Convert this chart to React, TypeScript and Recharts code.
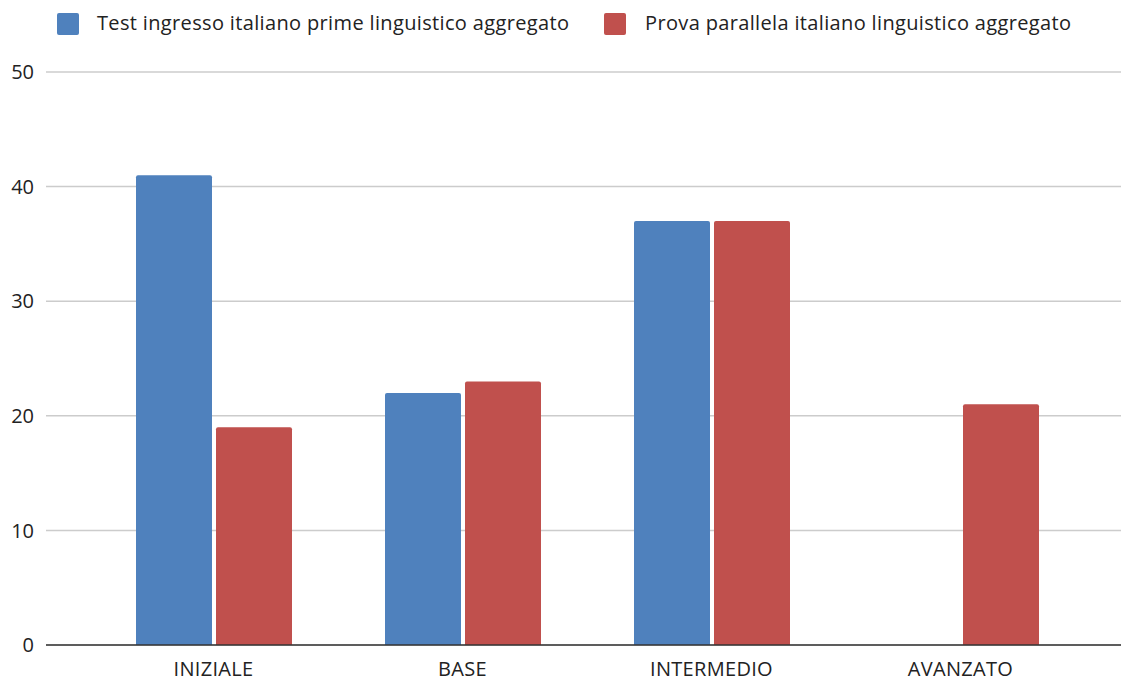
import { BarChart, Bar, XAxis, YAxis, CartesianGrid } from 'recharts'

const categories = ['INIZIALE', 'BASE', 'INTERMEDIO', 'AVANZATO']
const testIngresso = [41, 22, 37, 0]
const provaParallela = [19, 23, 37, 21]
const yTicks = [0, 10, 20, 30, 40, 50]

const SERIES = [
    { key: 'test', name: 'Test ingresso italiano prime linguistico aggregato', color: '#4f81bd' },
    { key: 'prova', name: 'Prova parallela italiano linguistico aggregato', color: '#c0504d' },
]

const data = categories.map((c, i) => ({ name: c, test: testIngresso[i], prova: provaParallela[i] }))

const FONT = "'Open Sans', sans-serif"

function Legend() {
    const items = [
        { left: 57, textLeft: 97 },
        { left: 604, textLeft: 645 },
    ]
    return (
        <>
            {SERIES.map((s, i) => (
                <div key={s.key}>
                    <div style={{ position: 'absolute', left: items[i].left, top: 13, width: 22, height: 22, borderRadius: 2, background: s.color }} />
                    <div style={{ position: 'absolute', left: items[i].textLeft, top: 9, fontSize: 20, letterSpacing: 0.35, lineHeight: '28px', color: '#222', fontFamily: FONT, whiteSpace: 'nowrap' }}>
                        {s.name}
                    </div>
                </div>
            ))}
        </>
    )
}

export default function App() {
    return (
        <div style={{ position: 'absolute', left: 0, top: 0, width: 1121, height: 684, background: '#fff', fontFamily: FONT }}>
            <Legend />
            <BarChart
                width={1121}
                height={684}
                data={data}
                margin={{ top: 72, right: 0, left: 0, bottom: 0 }}
                barSize={76}
                barGap={4}
            >
                <CartesianGrid horizontal vertical={false} stroke="#cccccc" strokeWidth={1.5} />
                <XAxis
                    dataKey="name"
                    height={39}
                    padding={{ left: 43, right: 36 }}
                    axisLine={{ stroke: '#333', strokeWidth: 1.5 }}
                    tickLine={false}
                    tickMargin={11}
                    tick={{ fill: '#222', fontSize: 20, letterSpacing: 0.3, fontFamily: FONT }}
                    interval={0}
                />
                <YAxis
                    width={46}
                    domain={[0, 50]}
                    ticks={yTicks}
                    axisLine={false}
                    tickLine={false}
                    tickMargin={6}
                    tick={{ fill: '#222', fontSize: 20, fontFamily: FONT }}
                />
                {SERIES.map((s) => (
                    <Bar key={s.key} dataKey={s.key} name={s.name} fill={s.color} radius={[2, 2, 0, 0]} isAnimationActive={false} />
                ))}
            </BarChart>
        </div>
    )
}
